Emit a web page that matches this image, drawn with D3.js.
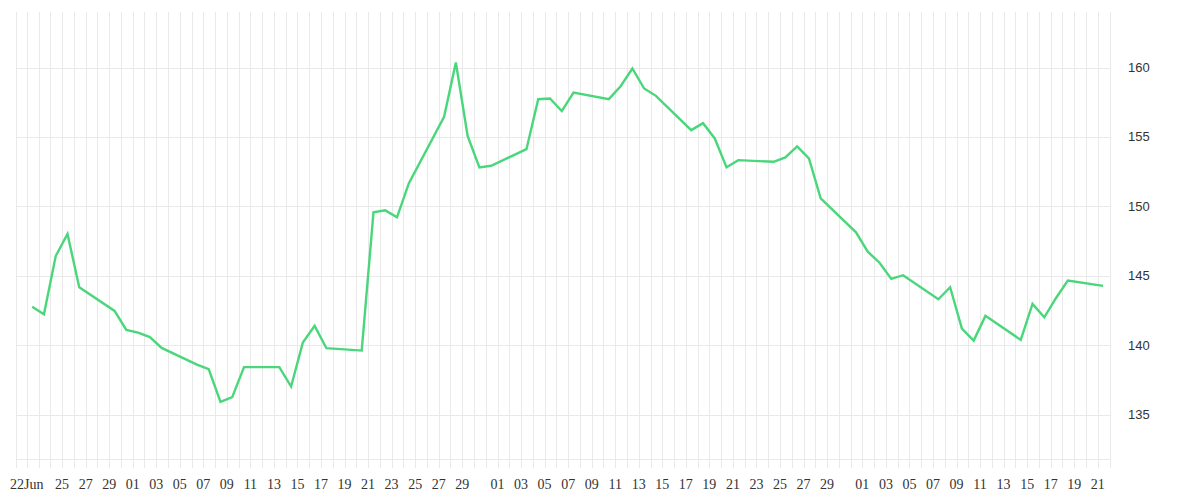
<!DOCTYPE html>
<html>
<head>
<meta charset="utf-8">
<script src="https://cdn.jsdelivr.net/npm/d3@7"></script>
<style>
  body { margin: 0; background: #fff; }
  .grid line { stroke: #e9e9e9; stroke-width: 1; shape-rendering: crispEdges; }
  .xlabel { font: 14px "Liberation Serif", serif; fill: #333; }
  .ylabel { font: 13px "Liberation Sans", Arial, sans-serif; fill: #333; }
</style>
</head>
<body>
<div id="chart"></div>
<script>
// daily closes (trading days only)
var dates = [
  "2020-06-22", "2020-06-23", "2020-06-24", "2020-06-25", "2020-06-26",
  "2020-06-29", "2020-06-30", "2020-07-01", "2020-07-02", "2020-07-03",
  "2020-07-06", "2020-07-07", "2020-07-08", "2020-07-09", "2020-07-10",
  "2020-07-13", "2020-07-14", "2020-07-15", "2020-07-16", "2020-07-17",
  "2020-07-20", "2020-07-21", "2020-07-22", "2020-07-23", "2020-07-24",
  "2020-07-27", "2020-07-28", "2020-07-29", "2020-07-30", "2020-07-31",
  "2020-08-03", "2020-08-04", "2020-08-05", "2020-08-06", "2020-08-07",
  "2020-08-10", "2020-08-11", "2020-08-12", "2020-08-13", "2020-08-14",
  "2020-08-17", "2020-08-18", "2020-08-19", "2020-08-20", "2020-08-21",
  "2020-08-24", "2020-08-25", "2020-08-26", "2020-08-27", "2020-08-28",
  "2020-08-31", "2020-09-01", "2020-09-02", "2020-09-03", "2020-09-04",
  "2020-09-07", "2020-09-08", "2020-09-09", "2020-09-10", "2020-09-11",
  "2020-09-14", "2020-09-15", "2020-09-16", "2020-09-17", "2020-09-18",
  "2020-09-21"
];
var prices = [
  142.76, 142.23, 146.42, 148.01, 144.17,
  142.47, 141.10, 140.90, 140.58, 139.80,
  138.60, 138.27, 135.92, 136.26, 138.42,
  138.42, 137.02, 140.19, 141.39, 139.78,
  139.61, 149.57, 149.71, 149.21, 151.65,
  156.45, 160.36, 155.08, 152.81, 152.92,
  154.12, 157.72, 157.77, 156.86, 158.20,
  157.72, 158.65, 159.93, 158.49, 157.96,
  155.49, 155.99, 154.89, 152.81, 153.33,
  153.21, 153.53, 154.32, 153.45, 150.58,
  148.13, 146.73, 145.94, 144.77, 145.04,
  143.31, 144.17, 141.20, 140.33, 142.11,
  140.38, 142.97, 142.01, 143.40, 144.65,
  144.27
];

// x tick labels (odd days, 31st skipped)
var xTickDates = [
  "2020-06-22", "2020-06-25", "2020-06-27", "2020-06-29",
  "2020-07-01", "2020-07-03", "2020-07-05", "2020-07-07", "2020-07-09",
  "2020-07-11", "2020-07-13", "2020-07-15", "2020-07-17", "2020-07-19",
  "2020-07-21", "2020-07-23", "2020-07-25", "2020-07-27", "2020-07-29",
  "2020-08-01", "2020-08-03", "2020-08-05", "2020-08-07", "2020-08-09",
  "2020-08-11", "2020-08-13", "2020-08-15", "2020-08-17", "2020-08-19",
  "2020-08-21", "2020-08-23", "2020-08-25", "2020-08-27", "2020-08-29",
  "2020-09-01", "2020-09-03", "2020-09-05", "2020-09-07", "2020-09-09",
  "2020-09-11", "2020-09-13", "2020-09-15", "2020-09-17", "2020-09-19",
  "2020-09-21"
];
var yTicks = [135, 140, 145, 150, 155, 160];

var svgWidth = 1200;
var svgHeight = 500;
var margin = { top: 12, right: 90, bottom: 41, left: 16 };
var width = svgWidth - margin.left - margin.right;
var height = svgHeight - margin.top - margin.bottom;

var parse = d3.utcParse("%Y-%m-%d");

var svg = d3.select("#chart")
  .append("svg")
  .attr("width", svgWidth)
  .attr("height", svgHeight);

var g = svg.append("g")
  .attr("transform", `translate(${margin.left}, ${margin.top})`);

// plot edges fall a little off the day boundaries
var xScale = d3.scaleUtc()
  .domain([d3.utcHour.offset(parse("2020-06-21"), 2), d3.utcHour.offset(parse("2020-09-22"), 1)])
  .range([0, width]);

var yScale = d3.scaleLinear()
  .domain([131.8, 164])
  .range([height, 0]);

var data = dates.map(function(d, i) {
  // closes sit near mid-day
  return { date: d3.utcHour.offset(parse(d), 11), price: prices[i] };
});

// grid: one vertical line per day plus the plot edges
var days = d3.utcDay.range(parse("2020-06-22"), parse("2020-09-22"));
var grid = g.append("g").attr("class", "grid");

grid.selectAll("line.v")
  .data(days)
  .enter()
  .append("line")
  .attr("class", "v")
  .attr("x1", d => Math.round(xScale(d)) + 0.5)
  .attr("x2", d => Math.round(xScale(d)) + 0.5)
  .attr("y1", 0)
  .attr("y2", height + 9);

grid.selectAll("line.edge")
  .data([0, width])
  .enter()
  .append("line")
  .attr("class", "edge")
  .attr("x1", d => d)
  .attr("x2", d => d)
  .attr("y1", 0)
  .attr("y2", height + 9);

grid.selectAll("line.h")
  .data(yTicks)
  .enter()
  .append("line")
  .attr("class", "h")
  .attr("x1", 0)
  .attr("x2", width)
  .attr("y1", d => Math.round(yScale(d)) + 0.5)
  .attr("y2", d => Math.round(yScale(d)) + 0.5);

grid.append("line")
  .attr("x1", 0)
  .attr("x2", width)
  .attr("y1", height)
  .attr("y2", height);

// x labels
var fmtFirst = d3.utcFormat("%d%b");
var fmtDay = d3.utcFormat("%d");
g.selectAll("text.xlabel")
  .data(xTickDates.map(parse))
  .enter()
  .append("text")
  .attr("class", "xlabel")
  .attr("text-anchor", "middle")
  .attr("x", d => xScale(d))
  .attr("y", height + 30)
  .text((d, i) => i === 0 ? fmtFirst(d) : fmtDay(d));

// y labels on the right
g.selectAll("text.ylabel")
  .data(yTicks)
  .enter()
  .append("text")
  .attr("class", "ylabel")
  .attr("x", width + 18)
  .attr("y", d => yScale(d))
  .attr("dy", "0.35em")
  .text(d => d);

// price line
var line = d3.line()
  .x(d => xScale(d.date))
  .y(d => yScale(d.price));

g.append("path")
  .datum(data)
  .attr("fill", "none")
  .attr("stroke", "#4ad67b")
  .attr("stroke-width", 2.4)
  .attr("stroke-linejoin", "miter")
  .attr("d", line);
</script>
</body>
</html>
